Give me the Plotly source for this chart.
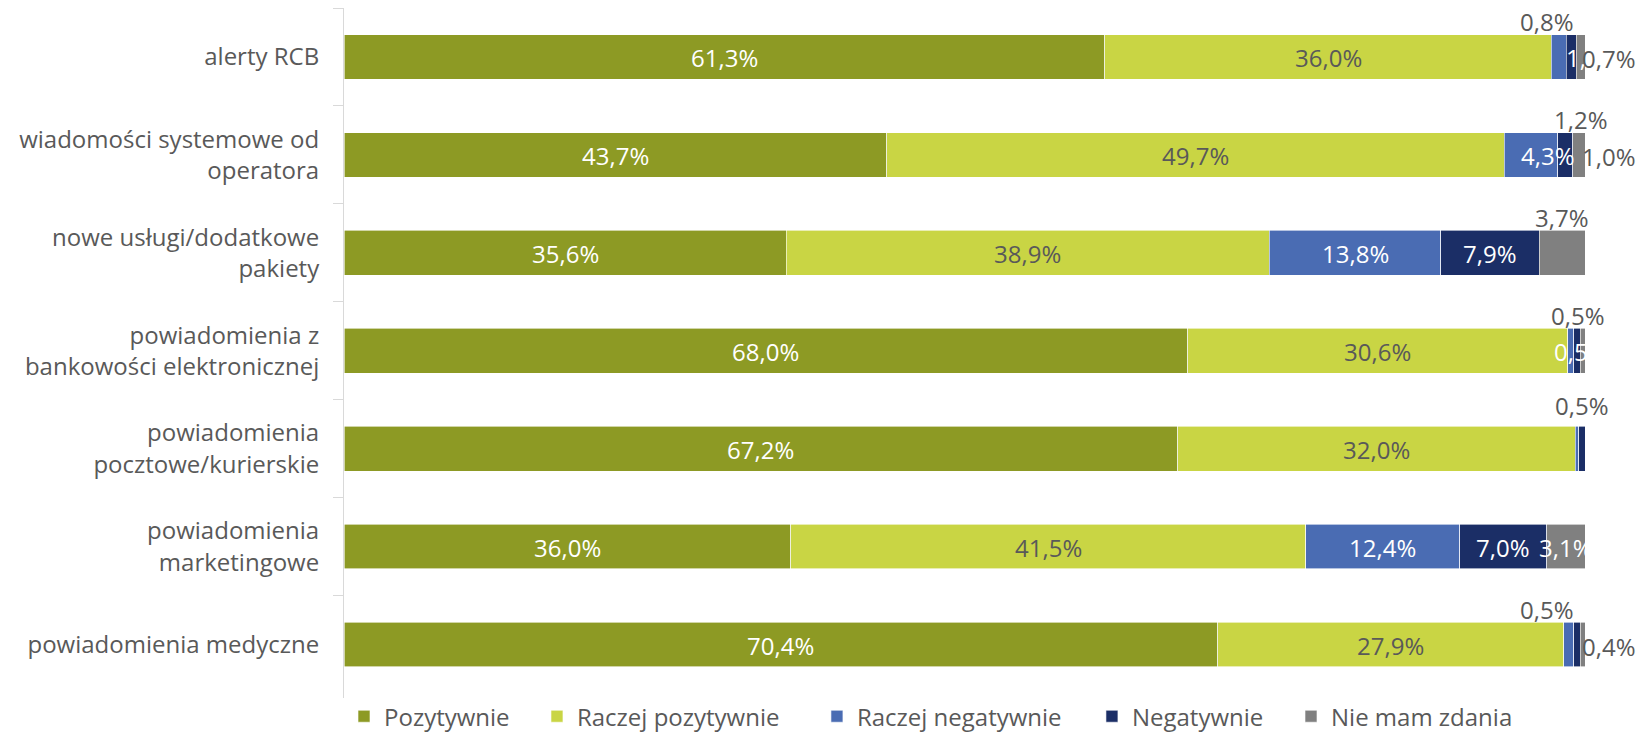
import plotly.graph_objects as go

# Response categories (rows, top to bottom)
categories = [
    "alerty RCB",
    "wiadomości systemowe od<br>operatora",
    "nowe usługi/dodatkowe<br>pakiety",
    "powiadomienia z<br>bankowości elektronicznej",
    "powiadomienia<br>pocztowe/kurierskie",
    "powiadomienia<br>marketingowe",
    "powiadomienia medyczne",
]

# Answer shares in percent, one list per answer option
series_names = ["Pozytywnie", "Raczej pozytywnie", "Raczej negatywnie", "Negatywnie", "Nie mam zdania"]
pozytywnie = [61.3, 43.7, 35.6, 68.0, 67.2, 36.0, 70.4]
raczej_pozytywnie = [36.0, 49.7, 38.9, 30.6, 32.0, 41.5, 27.9]
raczej_negatywnie = [1.2, 4.3, 13.8, 0.5, 0.3, 12.4, 0.8]
negatywnie = [0.8, 1.2, 7.9, 0.5, 0.5, 7.0, 0.5]
nie_mam_zdania = [0.7, 1.0, 3.7, 0.4, 0.0, 3.1, 0.4]

series_values = [pozytywnie, raczej_pozytywnie, raczej_negatywnie, negatywnie, nie_mam_zdania]
colors = ["#8D9A24", "#C9D544", "#4A6CB3", "#1B2E66", "#808080"]
inside_font_colors = ["#FFFFFF", "#595959", "#FFFFFF", "#FFFFFF", "#FFFFFF"]
outside_font_color = "#595959"
font_family = "Open Sans"
font_size = 24

# Horizontal start of each legend entry (paper fraction)
legend_x = [0.0, 0.1555, 0.3811, 0.6027, 0.7631]

# Placement of data labels that do not sit centred inside their segment:
# (row, series) -> (mode, horizontal shift px, extra vertical shift px); None = no label
label_placement = {
    (0, 2): ("in", 34, 0), (0, 3): ("above", -24, 0), (0, 4): ("right", 0, 0),
    (1, 2): ("in", 17, 0), (1, 3): ("above", 16, 0), (1, 4): ("right", 0, 0),
    (2, 4): ("above", 0, 0),
    (3, 2): ("above", 7, 0), (3, 3): ("in", 4, 0), (3, 4): None,
    (4, 2): None, (4, 3): ("above", 0, 8), (4, 4): None,
    (6, 2): None, (6, 3): ("above", -30, 0), (6, 4): ("right", 0, 0),
}


def fmt(v):
    return f"{v:.1f}".replace(".", ",") + "%"


fig = go.Figure()
legend_layouts = {}
for i, (name, vals, col) in enumerate(zip(series_names, series_values, colors)):
    legend_id = "legend" if i == 0 else f"legend{i + 1}"
    fig.add_trace(go.Bar(
        y=categories, x=vals, name=name, orientation="h",
        marker=dict(color=col, line=dict(color="#FFFFFF", width=0.6)),
        hoverinfo="skip", legend=legend_id,
    ))
    legend_layouts[legend_id] = dict(
        orientation="h", x=legend_x[i], xanchor="left",
        y=-0.027, yanchor="middle",
        font=dict(family=font_family, size=font_size, color="#595959"),
        itemclick=False, itemdoubleclick=False, bgcolor="rgba(0,0,0,0)",
    )

# Data labels, positioned on the normalised (100%) stacks
inner_annotations = []
outer_annotations = []
for r, cat in enumerate(categories):
    row_vals = [s[r] for s in series_values]
    total = sum(row_vals)
    cum = 0.0
    for si, v in enumerate(row_vals):
        share = v / total * 100
        start = cum
        cum += share
        place = label_placement.get((r, si), ("in", 0, 0))
        if place is None or v <= 0:
            continue
        mode, dx, dy = place
        font = dict(family=font_family, size=font_size)
        if mode == "in":
            font["color"] = inside_font_colors[si]
            inner_annotations.append(dict(
                x=start + share / 2, y=cat, xref="x", yref="y", text=fmt(v),
                showarrow=False, xshift=dx, yshift=dy - 1, font=font,
                xanchor="center", yanchor="middle"))
        elif mode == "above":
            font["color"] = outside_font_color
            outer_annotations.append(dict(
                x=start + share / 2, y=cat, xref="x", yref="y", text=fmt(v),
                showarrow=False, xshift=dx, yshift=35 + dy, font=font,
                xanchor="center", yanchor="middle"))
        elif mode == "right":
            font["color"] = outside_font_color
            outer_annotations.append(dict(
                x=100, y=cat, xref="x", yref="y", text=fmt(v),
                showarrow=False, xshift=-5 + dx, yshift=-2 + dy, font=font,
                xanchor="left", yanchor="middle"))

fig.update_layout(
    barmode="stack",
    barnorm="percent",
    bargap=0.543,
    width=1642, height=733,
    margin=dict(l=344, r=57, t=8, b=35, autoexpand=False),
    paper_bgcolor="#FFFFFF",
    plot_bgcolor="#FFFFFF",
    font=dict(family=font_family, size=font_size, color="#595959"),
    annotations=inner_annotations + outer_annotations,
    showlegend=True,
    **legend_layouts,
)
fig.update_xaxes(range=[0, 100], visible=False, fixedrange=True)
fig.update_yaxes(
    autorange="reversed", type="category",
    showline=True, linecolor="#D9D9D9", linewidth=1,
    ticks="outside", tickson="boundaries", ticklen=10, tickcolor="#D9D9D9",
    tickfont=dict(family=font_family, size=font_size, color="#595959"),
    ticklabelstandoff=19, showgrid=False, fixedrange=True,
)

fig.write_html("out.html", config={"displayModeBar": False})
